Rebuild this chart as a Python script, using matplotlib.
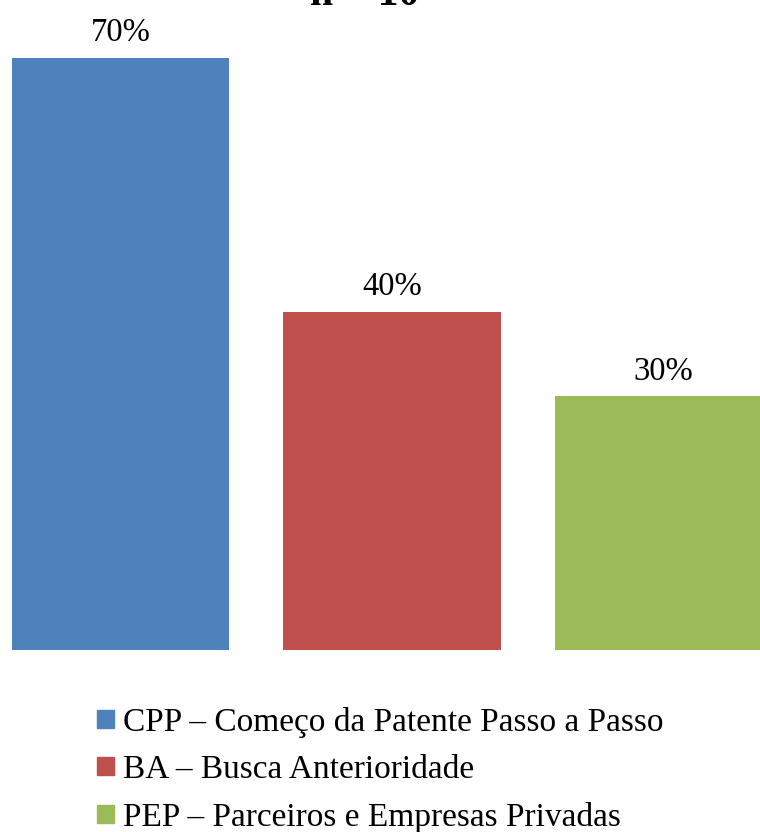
import matplotlib.pyplot as plt
import matplotlib.patches as mpatches

plt.rcParams['font.family'] = ['Liberation Serif', 'DejaVu Serif']

categories = ['CPP', 'BA', 'PEP']
labels = ['CPP – Começo da Patente Passo a Passo',
          'BA – Busca Anterioridade',
          'PEP – Parceiros e Empresas Privadas']
values = [70, 40, 30]
colors = ['#4f81bd', '#c0504d', '#9bbb59']
title = 'n = 10'


def plot(output):
  fig = plt.figure(figsize=(7.6, 8.32), dpi=100)
  ax = fig.add_axes([0, 182 / 832, 1, 650 / 832])

  x = range(len(values))
  bars = ax.bar(x, values, width=0.8, color=colors)
  for b, v in zip(bars, values):
    ax.annotate(f'{v}%', (b.get_x() + b.get_width() / 2, v),
                xytext=(0, 12), textcoords='offset points',
                ha='center', va='baseline', fontsize=23.5)

  ax.set_xlim(-120.5 / 271.5, (760 - 120.5) / 271.5)
  ax.set_ylim(0, 650 / (592 / 70))
  ax.axis('off')

  fig.text(365 / 760, 1 - 5 / 832, title, ha='center', va='baseline',
           fontsize=30, fontweight='bold')

  handles = [mpatches.Patch(color=c) for c in colors]
  fig.legend(handles, labels, loc='upper left',
             bbox_to_anchor=(97 / 760, 1 - 707 / 832), frameon=False,
             fontsize=24, handlelength=0.5, handleheight=0.45,
             handletextpad=0.27, labelspacing=0.5, borderpad=0,
             borderaxespad=0)

  plt.savefig(output)


if __name__ == '__main__':
  plot('out.png')
